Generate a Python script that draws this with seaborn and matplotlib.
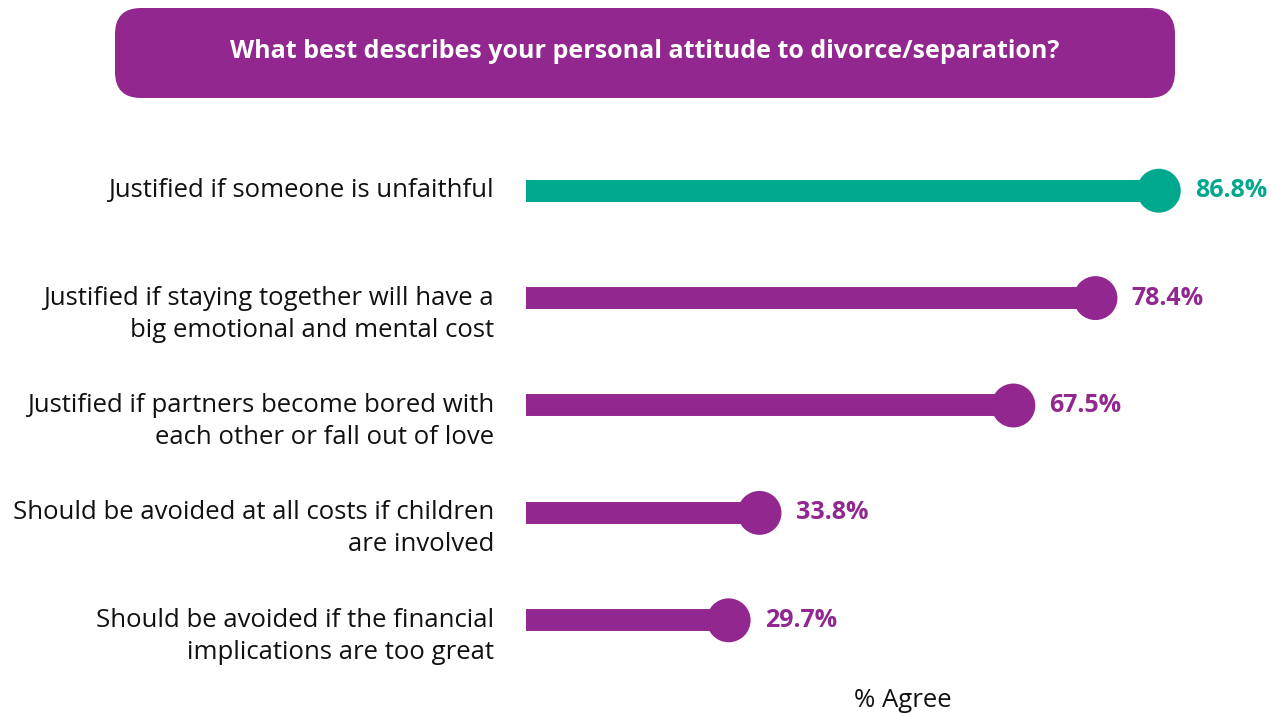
import matplotlib
matplotlib.use("Agg")
import matplotlib.pyplot as plt
import matplotlib.patches as mpatches
import matplotlib.transforms as mtransforms
import seaborn as sns
import pandas as pd

sns.set_style("white")
plt.rcParams['font.family'] = ['Open Sans', 'DejaVu Sans']

# data
answers = [
    "Justified if someone is unfaithful",
    "Justified if staying together will have a\nbig emotional and mental cost",
    "Justified if partners become bored with\neach other or fall out of love",
    "Should be avoided at all costs if children\nare involved",
    "Should be avoided if the financial\nimplications are too great",
]
agree = [86.8, 78.4, 67.5, 33.8, 29.7]
highlight = [True, False, False, False, False]

PURPLE = "#92278F"
GREEN = "#00A88E"

df = pd.DataFrame({"answer": answers, "agree": agree, "highlight": highlight})
df["row"] = range(len(df))
df["colour"] = [GREEN if h else PURPLE for h in df["highlight"]]

fig = plt.figure(figsize=(12.71, 7.14), dpi=100)
ax = fig.add_axes([526 / 1271, 1 - 674 / 714, 745 / 1271, 537 / 714])

# stems
ax.hlines(df["row"], 0, df["agree"], colors=df["colour"], linewidth=15.8, zorder=1)
# heads
sns.scatterplot(data=df, x="agree", y="row", hue="colour", palette={GREEN: GREEN, PURPLE: PURPLE},
                s=1000, linewidth=0, legend=False, ax=ax, zorder=2)

ax.set_xlim(2.8, 101.7)
ax.set_ylim(len(df) - 0.5, -0.5)
ax.set_yticks([])
ax.set_xticks([])
sns.despine(ax=ax, left=True, bottom=True)
ax.set_ylabel("")
ax.set_xlabel("% Agree", fontsize=18.5, color="#111111")
ax.xaxis.set_label_coords((903 - 526) / 745, -0.05)
ax.xaxis.label.set_va("center")

# category labels, first line level with the bar
ytrans = ax.get_yaxis_transform()
for i, lab in enumerate(df["answer"]):
    for k, line in enumerate(lab.split("\n")):
        ax.annotate(line, xy=(0, i), xycoords=ytrans, xytext=(-32, -32 * k),
                    textcoords="offset pixels", ha="right", va="center",
                    fontsize=18.5, color="#111111", annotation_clip=False)

# value labels
for i, (v, c) in enumerate(zip(df["agree"], df["colour"])):
    ax.annotate(f"{v:.1f}%", xy=(v, i), xytext=(36, 0), textcoords="offset pixels",
                ha="left", va="center", fontsize=18, fontweight="bold", color=c,
                annotation_clip=False)

# title banner
box = mpatches.FancyBboxPatch((115, 714 - 98), 1060, 90,
                              boxstyle="round,pad=0,rounding_size=26",
                              transform=mtransforms.IdentityTransform(),
                              facecolor=PURPLE, edgecolor="none")
fig.patches.append(box)
fig.text(645 / 1271, 1 - 51 / 714, "What best describes your personal attitude to divorce/separation?",
         ha="center", va="center", fontsize=18, fontweight="bold", color="white")

fig.savefig("out.png", dpi=100)
